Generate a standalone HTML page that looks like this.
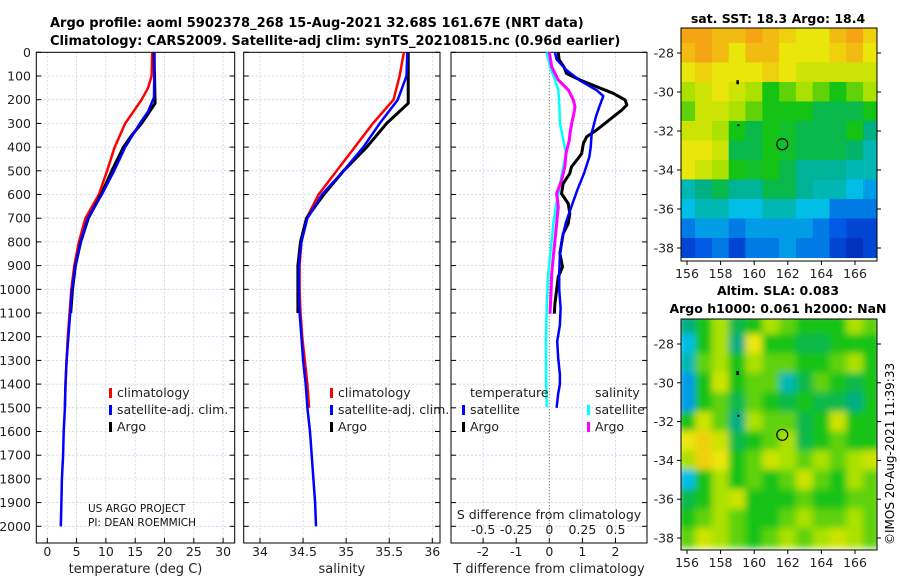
<!DOCTYPE html>
<html><head><meta charset="utf-8"><style>
body{margin:0;background:#fff}
svg{display:block;font-family:"DejaVu Sans","Liberation Sans",sans-serif}
</style></head><body>
<svg id="fig" width="900" height="580" viewBox="0 0 900 580" xmlns="http://www.w3.org/2000/svg">
<rect width="900" height="580" fill="#fff"/>
<text x="50" y="27" font-size="13" font-weight="bold">Argo profile: aoml 5902378_268 15-Aug-2021 32.68S 161.67E (NRT data)</text>
<text x="50" y="45" font-size="13" font-weight="bold">Climatology: CARS2009. Satellite-adj clim: synTS_20210815.nc (0.96d earlier)</text>
<text x="778" y="23" font-size="12.5" font-weight="bold" text-anchor="middle">sat. SST: 18.3 Argo: 18.4</text>
<text x="778" y="295" font-size="12.5" font-weight="bold" text-anchor="middle">Altim. SLA: 0.083</text>
<text x="778" y="313" font-size="12.5" font-weight="bold" text-anchor="middle">Argo h1000: 0.061 h2000: NaN</text>
<text transform="translate(894,545) rotate(-90)" font-size="12">©IMOS 20-Aug-2021 11:39:33</text>
<g id="layer"></g>
</svg>
<script>
// ---- data ----
const depthTicks=[0,100,200,300,400,500,600,700,800,900,1000,1100,1200,1300,1400,1500,1600,1700,1800,1900,2000];
const tempTicks=[0,5,10,15,20,25,30];
const salTicks=[34,34.5,35,35.5,36];
const tdiffTicks=[-2,-1,0,1,2];
const sdiffTicks=[-0.5,-0.25,0,0.25,0.5];
const sdiffLabels=["-0.5","-0.25","0","0.25","0.5"];
const tClimDepth=[0,100,150,200,300,400,500,600,700,800,900,1000,1100,1200,1300,1400,1500];
const tClim=[17.9,17.8,17.2,16.1,13.3,11.5,10.2,8.8,6.5,5.4,4.6,4.1,3.8,3.5,3.3,3.1,3.0];
const tSatDepth=[0,190,250,300,400,500,600,700,800,900,1000,1100,1200,1300,1400,1500,1600,1700,1800,1900,2000];
const tSat=[18.3,18.2,17.2,15.8,13.3,11.4,9.3,6.9,5.7,4.8,4.2,3.9,3.6,3.3,3.1,3.0,2.8,2.7,2.5,2.4,2.3];
const tArgoDepth=[0,215,300,350,400,500,600,700,800,900,1000,1100];
const tArgo=[18.2,18.4,16.1,14.4,13.0,11.0,9.2,7.0,5.7,4.8,4.3,4.0];
const sClimDepth=[0,100,200,300,400,500,600,700,800,900,1000,1100,1200,1300,1400,1500];
const sClim=[35.67,35.62,35.55,35.31,35.10,34.89,34.68,34.54,34.48,34.46,34.46,34.47,34.49,34.52,34.55,34.57];
const sSatDepth=[0,100,200,300,400,500,600,700,800,900,1000,1100,1200,1300,1400,1500,1600,1700,1800,1900,2000];
const sSat=[35.71,35.70,35.60,35.39,35.20,34.97,34.72,34.55,34.48,34.45,34.45,34.46,34.48,34.50,34.53,34.55,34.58,34.60,34.62,34.64,34.65];
const sArgoDepth=[0,215,300,400,500,600,700,800,900,1000,1100];
const sArgo=[35.72,35.72,35.47,35.24,34.97,34.74,34.54,34.47,34.44,34.44,34.44];
const dtSatDepth=[0,30,75,120,160,185,230,270,315,340,400,440,510,580,650,720,790,860,930,1000,1080,1150,1220,1290,1360,1400,1440,1500];
const dtSat=[0.17,0.22,0.52,0.93,1.43,1.63,1.51,1.41,1.33,1.28,1.25,1.21,1.05,0.85,0.67,0.50,0.38,0.32,0.30,0.30,0.34,0.32,0.24,0.27,0.32,0.32,0.27,0.22];
const dtArgoDepth=[0,32,61,89,117,145,173,201,222,244,272,300,328,356,384,427,455,483,511,554,596,638,680,723,765,807,849,906,948,1004,1061,1103];
const dtArgo=[0.27,0.30,0.44,0.52,0.93,1.43,1.93,2.29,2.34,2.19,1.93,1.68,1.43,1.13,1.03,0.98,0.83,0.67,0.62,0.42,0.37,0.57,0.62,0.57,0.42,0.37,0.32,0.40,0.27,0.22,0.17,0.15];
const dsSatDepth=[0,61,117,159,230,300,370,427,483,540,596,652,723,793,863,934,1075,1216,1356,1497];
const dsSat=[-0.02,0.005,0.043,0.068,0.076,0.081,0.106,0.126,0.106,0.086,0.068,0.050,0.030,0.018,0.005,-0.008,-0.02,-0.025,-0.025,-0.02];
const dsArgoDepth=[0,61,117,159,201,230,258,300,342,370,427,483,540,596,652,723,793,863,934,1018,1103];
const dsArgo=[0,0.018,0.068,0.144,0.181,0.194,0.186,0.169,0.156,0.151,0.126,0.118,0.093,0.055,0.068,0.055,0.043,0.030,0.018,0.013,0.005];
const lonTicks=[156,158,160,162,164,166];
const latTicks=[-28,-30,-32,-34,-36,-38];
const sstGrid=[
[0.85,0.85,0.8,0.8,0.85,0.8,0.75,0.7,0.7,0.8,0.85,0.75],
[0.8,0.85,0.8,0.7,0.8,0.8,0.7,0.7,0.7,0.75,0.8,0.7],
[0.7,0.75,0.7,0.7,0.7,0.75,0.7,0.65,0.65,0.65,0.65,0.65],
[0.6,0.65,0.7,0.65,0.6,0.5,0.55,0.6,0.55,0.5,0.55,0.6],
[0.55,0.65,0.65,0.6,0.55,0.5,0.5,0.5,0.45,0.45,0.45,0.5],
[0.65,0.65,0.6,0.5,0.45,0.5,0.48,0.45,0.45,0.45,0.5,0.4],
[0.7,0.7,0.65,0.45,0.45,0.5,0.48,0.45,0.45,0.45,0.42,0.35],
[0.7,0.65,0.6,0.5,0.48,0.5,0.45,0.38,0.38,0.38,0.35,0.35],
[0.35,0.4,0.45,0.38,0.38,0.45,0.45,0.38,0.35,0.35,0.3,0.25],
[0.3,0.35,0.35,0.3,0.3,0.35,0.35,0.3,0.3,0.2,0.2,0.2],
[0.2,0.25,0.25,0.2,0.25,0.25,0.25,0.25,0.2,0.15,0.1,0.1],
[0.1,0.15,0.2,0.1,0.2,0.2,0.25,0.2,0.2,0.1,0.05,0.1]];
const slaGrid=[
[0.4,0.5,0.6,0.45,0.5,0.6,0.55,0.5,0.5,0.5,0.6,0.55],
[0.3,0.5,0.6,0.4,0.7,0.5,0.5,0.45,0.45,0.5,0.5,0.5],
[0.35,0.55,0.6,0.5,0.6,0.55,0.55,0.5,0.5,0.55,0.6,0.5],
[0.25,0.5,0.65,0.5,0.55,0.55,0.35,0.45,0.55,0.5,0.45,0.5],
[0.25,0.5,0.55,0.45,0.55,0.5,0.45,0.5,0.45,0.45,0.4,0.5],
[0.5,0.65,0.55,0.4,0.6,0.55,0.55,0.45,0.5,0.65,0.5,0.5],
[0.7,0.75,0.65,0.45,0.5,0.55,0.6,0.45,0.5,0.55,0.5,0.5],
[0.6,0.75,0.7,0.5,0.55,0.65,0.6,0.55,0.6,0.55,0.6,0.65],
[0.3,0.5,0.6,0.5,0.55,0.5,0.55,0.65,0.55,0.5,0.6,0.55],
[0.45,0.5,0.6,0.65,0.5,0.5,0.5,0.55,0.5,0.5,0.55,0.55],
[0.5,0.55,0.6,0.55,0.5,0.5,0.55,0.6,0.55,0.55,0.6,0.55],
[0.55,0.65,0.6,0.55,0.5,0.55,0.6,0.55,0.6,0.65,0.6,0.55]];
const argoLon=161.67, argoLat=-32.68;

// ---- drawing ----
const NS='http://www.w3.org/2000/svg';
const layer=document.getElementById('layer');
function el(tag,attrs,parent){const e=document.createElementNS(NS,tag);for(const k in attrs)e.setAttribute(k,attrs[k]);(parent||layer).appendChild(e);return e;}
const TOP=52.3,BOT=543,PER100=23.7;
const yD=d=>TOP+d*PER100/100;
const panels=[
 {x0:36.3,x1:234.7,sx:v=>47.3+v*5.86,ticks:tempTicks,labels:tempTicks.map(String),xlabel:'temperature (deg C)',name:'temperature'},
 {x0:243.7,x1:440,sx:v=>260+(v-34)*86.15,ticks:salTicks,labels:salTicks.map(String),xlabel:'salinity',name:'salinity'},
 {x0:451,x1:647,sx:v=>549.3+v*33.1,ticks:tdiffTicks,labels:tdiffTicks.map(String),xlabel:'T difference from climatology',name:'difference'}
];
const sxS=v=>549.3+v*132.4;
panels.forEach((p,pi)=>{
 const g=el('g',{});
 
 
 el('rect',{x:p.x0,y:TOP,width:p.x1-p.x0,height:BOT-TOP,fill:'#fff'},g);
 depthTicks.forEach(d=>{
  el('line',{x1:p.x0,x2:p.x1,y1:yD(d),y2:yD(d),stroke:'#c8d0e8','stroke-width':0.8,'stroke-dasharray':'2,2'},g);
  el('line',{x1:p.x0,x2:p.x0+5,y1:yD(d),y2:yD(d),stroke:'#000'},g);
  el('line',{x1:p.x1,x2:p.x1-5,y1:yD(d),y2:yD(d),stroke:'#000'},g);
 });
 p.ticks.forEach((t,i)=>{
  const x=p.sx(t);
  if(!(pi==2&&t==0))el('line',{x1:x,x2:x,y1:TOP,y2:BOT,stroke:'#c8d0e8','stroke-width':0.8,'stroke-dasharray':'2,2'},g);
  el('line',{x1:x,x2:x,y1:BOT,y2:BOT-5,stroke:'#000'},g);
  const tx=el('text',{x:x,y:556,'font-size':12.5,'text-anchor':'middle',fill:'#222'},g);
  tx.textContent=p.labels[i];
  
  
 });
 const xl=el('text',{x:(p.x0+p.x1)/2,y:573,'font-size':13,'text-anchor':'middle',fill:'#222'},g);
 xl.textContent=p.xlabel;
 
 
 el('rect',{x:p.x0,y:TOP,width:p.x1-p.x0,height:BOT-TOP,fill:'none',stroke:'#000','stroke-width':1},g);
});
depthTicks.forEach(d=>{
 const t=el('text',{x:31,y:yD(d)+4.5,'font-size':12.5,'text-anchor':'end',fill:'#222'});
 t.textContent=String(d);
 
 
});
el('line',{x1:549.3,x2:549.3,y1:TOP,y2:BOT,stroke:'#555','stroke-width':1,'stroke-dasharray':'1,2'});
function line(xs,ds,sx,color,w,name){
 const pts=xs.map((v,i)=>sx(v).toFixed(1)+','+yD(ds[i]).toFixed(1)).join(' ');
 const l=el('polyline',{points:pts,fill:'none',stroke:color,'stroke-width':w,'stroke-linejoin':'round'});
 
 
}
const sxT=panels[0].sx, sxSal=panels[1].sx, sxD=panels[2].sx;
line(tClim,tClimDepth,sxT,'#f00',2.5,'temperature-climatology-line');
line(tArgo,tArgoDepth,sxT,'#000',3,'temperature-argo-line');
line(tSat,tSatDepth,sxT,'#00f',2.5,'temperature-satellite-line');
line(sClim,sClimDepth,sxSal,'#f00',2.5,'salinity-climatology-line');
line(sArgo,sArgoDepth,sxSal,'#000',3,'salinity-argo-line');
line(sSat,sSatDepth,sxSal,'#00f',2.5,'salinity-satellite-line');
line(dsSat,dsSatDepth,sxS,'#0ff',2.5,'salinity-diff-satellite-line');
line(dsArgo,dsArgoDepth,sxS,'#f0f',3,'salinity-diff-argo-line');
line(dtArgo,dtArgoDepth,sxD,'#000',3,'temperature-diff-argo-line');
line(dtSat,dtSatDepth,sxD,'#00f',2.5,'temperature-diff-satellite-line');
function legEntry(x,y,color,label,name){
 const g=el('g',{});
 
 
 if(color)el('rect',{x:x,y:y-9,width:3,height:10,fill:color},g);
 const t=el('text',{x:x+(color?8:0),y:y,'font-size':12.5,fill:'#222'},g);
 t.textContent=label;
}
[[109,'climatology-legend'],[330,'salinity-legend']].forEach(([x,n])=>{
 legEntry(x,397,'#f00','climatology',n+'-climatology');
 legEntry(x,414,'#00f','satellite-adj. clim.',n+'-satellite');
 legEntry(x,431,'#000','Argo',n+'-argo');
});
legEntry(470,397,null,'temperature','diff-legend-temperature-header');
legEntry(462,414,'#00f','satellite','diff-legend-t-satellite');
legEntry(462,431,'#000','Argo','diff-legend-t-argo');
legEntry(595,397,null,'salinity','diff-legend-salinity-header');
legEntry(587,414,'#0ff','satellite','diff-legend-s-satellite');
legEntry(587,431,'#f0f','Argo','diff-legend-s-argo');
const sdt=el('text',{x:549,y:519,'font-size':12.5,'text-anchor':'middle',fill:'#222'});
sdt.textContent='S difference from climatology';


sdiffTicks.forEach((t,i)=>{
 const tx=el('text',{x:sxS(t),y:534,'font-size':12.5,'text-anchor':'middle',fill:'#222'});
 tx.textContent=sdiffLabels[i];
 
 
});
const cr1=el('text',{x:88,y:512,'font-size':10.5,fill:'#111'});cr1.textContent='US ARGO PROJECT';


const cr2=el('text',{x:88,y:526,'font-size':10.5,fill:'#111'});cr2.textContent='PI: DEAN ROEMMICH';



const cmapStops=[[0,[0,30,170]],[0.15,[0,90,230]],[0.3,[0,190,230]],[0.4,[0,175,130]],[0.5,[20,195,20]],[0.6,[170,225,0]],[0.7,[235,230,10]],[0.85,[245,165,20]],[1,[240,110,0]]];
function cmap(v){for(let i=1;i<cmapStops.length;i++){const[a,ca]=cmapStops[i-1],[b,cb]=cmapStops[i];if(v<=b){const f=(v-a)/(b-a);return 'rgb('+ca.map((c,k)=>Math.round(c+(cb[k]-c)*f)).join(',')+')';}}return 'rgb(240,110,0)';}
const defs=el('defs',{});
const flt=el('filter',{id:'blur',x:'-5%',y:'-5%',width:'110%',height:'110%'},defs);
el('feGaussianBlur',{stdDeviation:3.5},flt);
const cp1=el('clipPath',{id:'c1'},defs);el('rect',{x:681,y:28,width:196,height:233},cp1);
const cp2=el('clipPath',{id:'c2'},defs);el('rect',{x:681,y:319,width:196,height:231},cp2);
function drawMap(grid,y0,y1,lat28y,latPer,clip,blur,name){
 const lonX=l=>687+(l-156)*16.8;
 const latY=l=>lat28y+(-28-l)*latPer;
 const g=el('g',{'clip-path':'url(#'+clip+')'});
 
 
 const gi=el('g',blur?{filter:'url(#blur)'}:{},g);
 grid.forEach((row,r)=>row.forEach((v,c)=>{
  const lon=155.5+c, lat=-26.5-r;
  el('rect',{x:lonX(lon)-0.3,y:latY(lat)-0.3,width:16.8+0.6,height:latPer+0.6,fill:cmap(v)},gi);
 }));
 const fr=el('rect',{x:681,y:y0,width:196,height:y1-y0,fill:'none',stroke:'#000'});
 
 
 lonTicks.forEach(l=>{
  const x=lonX(l);
  el('line',{x1:x,x2:x,y1:y1,y2:y1+4,stroke:'#000'});
  const t=el('text',{x:x,y:y1+17,'font-size':12.5,'text-anchor':'middle',fill:'#222'});t.textContent=String(l);
  
  
 });
 latTicks.forEach(l=>{
  const y=latY(l);
  if(y<y0||y>y1)return;
  el('line',{x1:681,x2:677,y1:y,y2:y,stroke:'#000'});
  el('line',{x1:877,x2:881,y1:y,y2:y,stroke:'#000'});
  const t=el('text',{x:674,y:y+4.5,'font-size':12.5,'text-anchor':'end',fill:'#222'});t.textContent=String(l);
  
  
 });
 el('rect',{x:lonX(159)-1,y:latY(-29.5)-2,width:2.5,height:4,fill:'#000'});
 el('rect',{x:lonX(159),y:latY(-31.7)-1,width:2,height:2,fill:'#000'});
 const m=el('circle',{cx:lonX(argoLon),cy:latY(argoLat),r:5.5,fill:'none',stroke:'#000','stroke-width':1.2});
 
 
}
drawMap(sstGrid,28,261,53,19.5,'c1',false,'sst-map');
drawMap(slaGrid,319,550,344,19.4,'c2',true,'sla-map');
</script>
</body></html>
